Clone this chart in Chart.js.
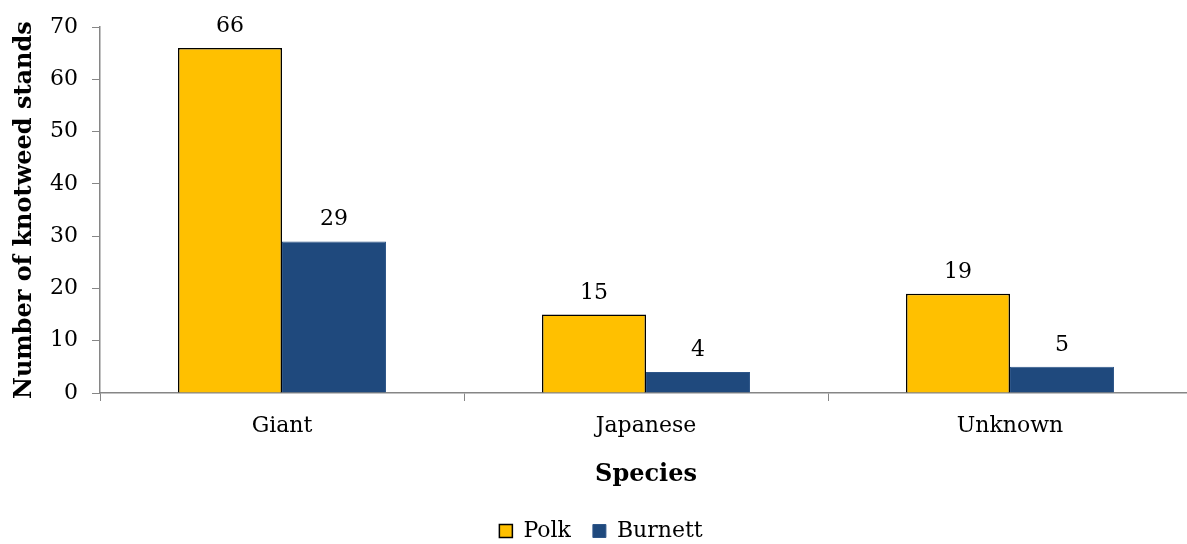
<!DOCTYPE html>
<html>
<head>
<meta charset="utf-8">
<script src="https://cdn.jsdelivr.net/npm/chart.js@4"></script>
<style>
  html, body { margin: 0; padding: 0; overflow: hidden; background: #ffffff; }
  #wrap { position: relative; width: 1202px; height: 552px; }
</style>
</head>
<body>
<div id="wrap"><canvas id="chart"></canvas></div>
<script>
// Knotweed stands counted per species in two counties
const categories = ['Giant', 'Japanese', 'Unknown'];
const polkCounts = [66, 15, 19];
const burnettCounts = [29, 4, 5];
const seriesNames = ['Polk', 'Burnett'];
const yMin = 0;
const yMax = 70;
const yStep = 10;

const FONT = "'DejaVu Serif', Georgia, serif";
const AXIS_GREY = '#868686';

// Writes each bar's value just above its top edge
const valueLabels = {
  id: 'valueLabels',
  afterDatasetsDraw(chart) {
    const ctx = chart.ctx;
    ctx.save();
    ctx.font = '22px ' + FONT;
    ctx.fillStyle = '#000000';
    ctx.textAlign = 'center';
    ctx.textBaseline = 'alphabetic';
    chart.data.datasets.forEach((ds, i) => {
      chart.getDatasetMeta(i).data.forEach((bar, j) => {
        ctx.fillText(String(ds.data[j]), bar.x, bar.y - 16);
      });
    });
    ctx.restore();
  }
};

new Chart(document.getElementById('chart'), {
  type: 'bar',
  data: {
    labels: categories,
    datasets: [
      {
        label: seriesNames[0],
        data: polkCounts,
        backgroundColor: '#FFC000',
        borderColor: '#000000',
        borderWidth: 1.5,
        categoryPercentage: 0.5714,
        barPercentage: 1.0
      },
      {
        label: seriesNames[1],
        data: burnettCounts,
        backgroundColor: '#1F497D',
        borderColor: '#2E5689',
        borderWidth: 1,
        categoryPercentage: 0.5714,
        barPercentage: 1.0
      }
    ]
  },
  options: {
    responsive: true,
    maintainAspectRatio: false,
    devicePixelRatio: 1,
    animation: false,
    layout: { padding: { left: 10, right: 10, top: 27, bottom: 0 } },
    plugins: {
      tooltip: { enabled: false },
      legend: {
        position: 'bottom',
        labels: {
          font: { family: FONT, size: 22 },
          color: '#000000',
          boxWidth: 13,
          boxHeight: 13,
          padding: 22,
          useBorderRadius: false
        }
      }
    },
    scales: {
      x: {
        grid: {
          drawOnChartArea: false,
          drawTicks: true,
          tickLength: 8,
          color: AXIS_GREY,
          offset: true
        },
        border: { color: AXIS_GREY, width: 1.5 },
        ticks: {
          font: { family: FONT, size: 22 },
          color: '#000000',
          padding: 12
        },
        title: {
          display: true,
          text: 'Species',
          font: { family: FONT, size: 24, weight: 'bold' },
          color: '#000000',
          padding: { top: 0, bottom: 9 }
        },
        afterFit(scale) { scale.height = 105; }
      },
      y: {
        min: yMin,
        max: yMax,
        grid: {
          drawOnChartArea: false,
          drawTicks: true,
          tickLength: 8,
          color: AXIS_GREY
        },
        border: { color: AXIS_GREY, width: 1.5 },
        ticks: {
          stepSize: yStep,
          font: { family: FONT, size: 22 },
          color: '#000000',
          padding: 14
        },
        title: {
          display: true,
          text: 'Number of knotweed stands',
          font: { family: FONT, size: 24, weight: 'bold' },
          color: '#000000',
          padding: { top: 0, bottom: 0 }
        },
        afterFit(scale) { scale.width = 90; }
      }
    }
  },
  plugins: [valueLabels]
});
</script>
</body>
</html>
